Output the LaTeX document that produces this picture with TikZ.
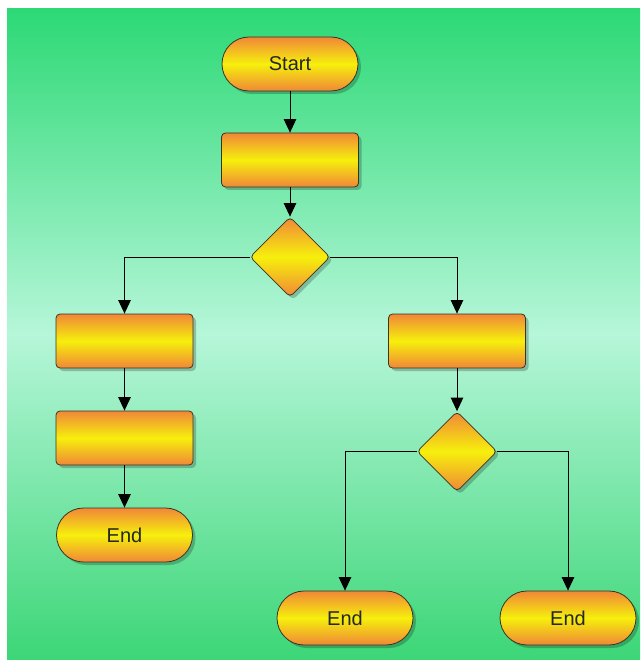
\documentclass[tikz,border=0pt]{standalone}
\usepackage{fontspec}
\setmainfont{Liberation Sans}
\usetikzlibrary{shapes.geometric,arrows.meta,shadows}
\definecolor{bgtop}{HTML}{2CD975}
\definecolor{bgmid}{HTML}{B6F6D9}
\definecolor{bgbot}{HTML}{3CD677}
\definecolor{nodeor}{HTML}{F08738}
\definecolor{nodeye}{HTML}{F6F00C}
\definecolor{edgec}{HTML}{3A3424}
\tikzset{
  x=1pt, y=1pt,
  boxbase/.style={draw=edgec, line width=0.8pt, top color=nodeor, bottom color=nodeor, middle color=nodeye,
    drop shadow={shadow xshift=3pt, shadow yshift=-3pt, fill=black, opacity=0.22},
    font=\fontsize{20}{23}\selectfont, text=black!85, inner sep=0pt},
  terminal/.style={boxbase, rectangle, rounded corners=27pt, minimum width=136pt, minimum height=54pt},
  procbox/.style={boxbase, rectangle, rounded corners=4pt, minimum width=137pt, minimum height=54pt},
  decbox/.style={boxbase, diamond, aspect=1, rounded corners=4pt, minimum width=80pt, minimum height=80pt},
  link/.style={draw=black, line width=0.9pt, -{Triangle[length=13.5pt,width=12.5pt]}}
}
\begin{document}
\begin{tikzpicture}
\useasboundingbox (0,0) rectangle (640,-660);
\fill[white] (0,0) rectangle (640,-660);
\shade[top color=bgtop, bottom color=bgbot, middle color=bgmid] (7,-9) rectangle (640,-659);
\node[terminal] (start) at (290,-64) {Start};
\node[procbox] (p1) at (290,-160) {};
\node[decbox] (d1) at (290,-257) {};
\node[procbox] (pa) at (124.5,-341) {};
\node[procbox] (pb) at (124.5,-438) {};
\node[terminal] (e1) at (124.5,-535) {End};
\node[procbox] (pr) at (457,-341) {};
\node[decbox] (d2) at (457,-451.5) {};
\node[terminal] (e2) at (345,-618) {End};
\node[terminal] (e3) at (568,-618) {End};
\draw[link] (start) -- (p1);
\draw[link] (p1) -- (d1);
\draw[link] (d1.west) -| (pa.north);
\draw[link] (d1.east) -| (pr.north);
\draw[link] (pa) -- (pb);
\draw[link] (pb) -- (e1);
\draw[link] (pr.south) -- (d2.north);
\draw[link] (d2.west) -| (e2.north);
\draw[link] (d2.east) -| (e3.north);
\end{tikzpicture}
\end{document}
